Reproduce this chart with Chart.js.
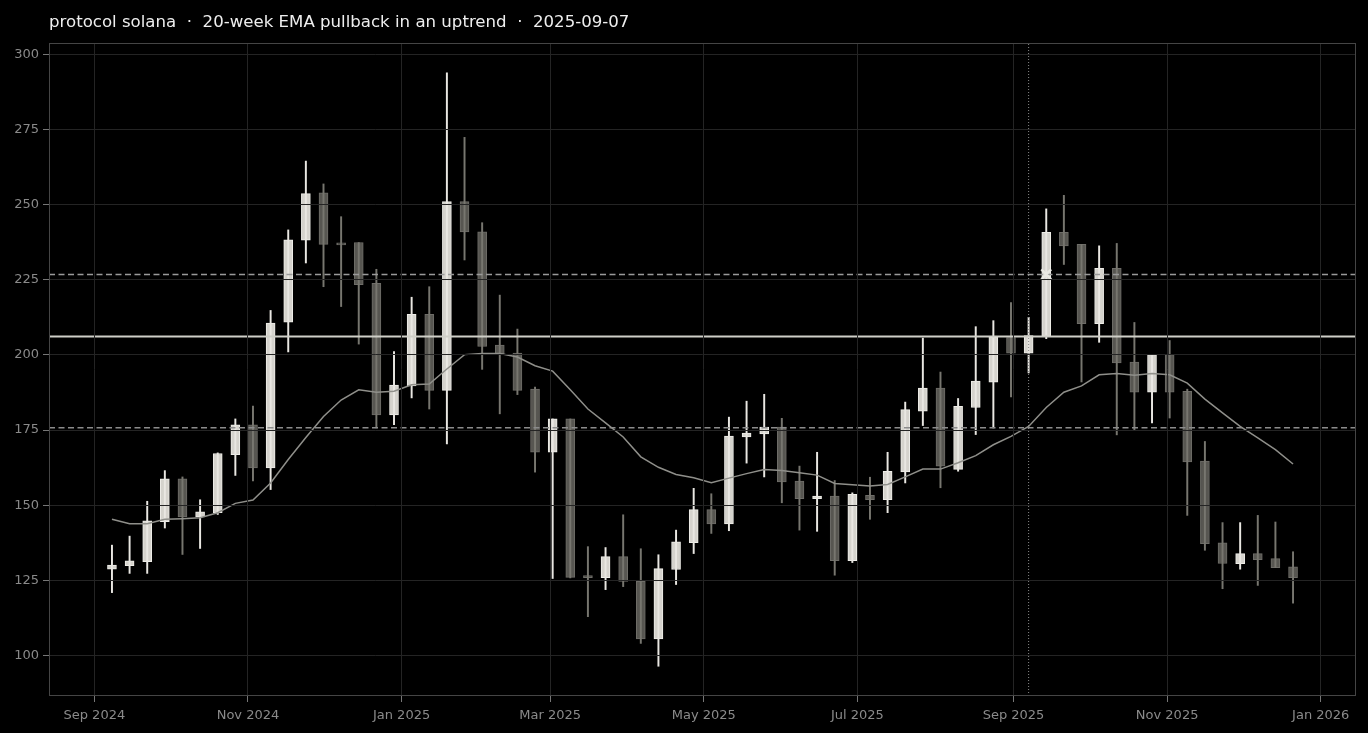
<!DOCTYPE html>
<html>
<head>
<meta charset="utf-8">
<title>protocol solana</title>
<script src="https://cdn.jsdelivr.net/npm/chart.js@4.4.1/dist/chart.umd.min.js"></script>
<style>
  html, body { margin: 0; padding: 0; background: #000; }
  #wrap { width: 1368px; height: 733px; }
</style>
</head>
<body>
<div id="wrap"><canvas id="myChart"></canvas></div>
<script>
// weekly candles (week start dates)
var weeks = [
  '2024-09-08','2024-09-15','2024-09-22','2024-09-29','2024-10-06','2024-10-13','2024-10-20','2024-10-27',
  '2024-11-03','2024-11-10','2024-11-17','2024-11-24','2024-12-01','2024-12-08','2024-12-15','2024-12-22','2024-12-29',
  '2025-01-05','2025-01-12','2025-01-19','2025-01-26','2025-02-02','2025-02-09','2025-02-16','2025-02-23',
  '2025-03-02','2025-03-09','2025-03-16','2025-03-23','2025-03-30','2025-04-06','2025-04-13','2025-04-20','2025-04-27',
  '2025-05-04','2025-05-11','2025-05-18','2025-05-25','2025-06-01','2025-06-08','2025-06-15','2025-06-22','2025-06-29',
  '2025-07-06','2025-07-13','2025-07-20','2025-07-27','2025-08-03','2025-08-10','2025-08-17','2025-08-24','2025-08-31',
  '2025-09-07','2025-09-14','2025-09-21','2025-09-28','2025-10-05','2025-10-12','2025-10-19','2025-10-26',
  '2025-11-02','2025-11-09','2025-11-16','2025-11-23','2025-11-30','2025-12-07','2025-12-14','2025-12-21'
];
var opens = [
  128.7,129.9,131.2,144.5,158.8,146.1,147.5,166.8,176.7,162.4,210.9,238.2,253.9,237.1,237.4,223.8,180.0,
  189.7,213.5,188.2,251.0,241.0,203.3,200.6,188.6,167.6,178.7,126.6,125.9,132.9,124.7,105.5,128.6,137.5,
  148.5,143.8,172.7,173.7,176.0,158.0,152.2,153.0,131.5,153.3,151.8,161.1,181.3,189.0,161.9,182.5,190.9,205.8,
  200.6,206.2,240.8,236.8,210.4,228.8,197.6,187.6,200.1,187.9,164.7,137.5,130.5,133.9,132.2,129.5
];
var highs = [
  136.7,139.7,151.3,161.5,159.4,151.8,167.4,178.7,183.0,214.8,241.6,264.5,256.9,246.0,237.4,228.5,201.1,
  219.2,222.7,293.9,272.4,244.0,219.9,208.6,189.3,178.7,178.7,136.2,135.9,146.8,135.5,133.5,141.7,155.6,
  153.8,179.3,184.6,186.9,178.9,163.0,167.6,158.2,154.1,159.3,167.6,184.3,205.6,194.3,185.5,209.4,211.4,217.4,
  212.5,248.6,253.1,236.8,236.3,237.1,210.8,200.1,204.8,188.6,171.2,144.2,144.2,146.6,144.4,134.5
];
var lows = [
  120.9,127.3,127.3,142.4,133.6,135.6,146.9,159.9,158.1,155.2,201.0,230.6,222.7,216.1,203.6,175.7,176.8,
  185.7,182.0,170.4,231.6,195.2,180.4,186.8,161.0,125.6,125.8,112.9,121.9,122.9,104.0,96.4,123.6,133.9,
  140.6,141.5,164.0,159.4,150.8,141.7,141.3,126.7,130.9,145.3,147.5,157.4,176.5,155.8,161.3,173.5,175.7,186.0,
  194.0,205.4,230.1,191.0,204.2,173.4,174.9,177.4,179.0,146.6,135.0,122.2,128.7,123.3,129.2,117.4
];
var closes = [
  130.1,131.5,144.8,158.8,146.1,147.8,167.2,176.7,162.4,210.6,238.3,253.7,236.8,236.6,223.4,180.0,190.0,
  213.5,188.2,251.0,240.9,202.8,200.4,188.2,167.6,178.7,126.0,125.9,132.9,124.6,105.5,128.9,137.8,148.5,
  143.8,173.0,174.0,176.0,157.7,152.2,153.0,131.5,153.6,151.8,161.3,181.8,189.0,163.0,182.9,191.3,205.9,200.6,
  206.4,240.8,236.3,210.4,228.8,197.3,187.6,200.1,187.6,164.4,137.2,130.6,133.9,131.9,129.2,125.9
];
var ema20 = [
  145.3,143.8,143.8,145.3,145.5,145.8,147.5,150.6,151.7,157.4,165.2,172.5,179.5,185.0,188.4,187.6,187.9,
  190.1,190.3,195.3,200.1,200.5,200.5,199.3,196.4,194.6,188.4,182.0,177.4,172.7,166.1,162.6,160.2,159.1,
  157.5,159.0,160.5,161.9,161.5,160.8,160.0,157.2,156.8,156.4,156.9,159.4,162.0,162.0,164.1,166.5,170.1,172.9,
  176.2,182.5,187.6,189.7,193.4,193.8,193.2,193.8,193.4,190.6,185.3,180.7,176.2,172.4,168.5,163.7
];

var entryLevel = 206.1;
var targetLevel = 226.8;
var stopLevel = 175.8;
var signalWeek = '2025-09-07';
var hitWeek = '2025-09-14';

var tickDates = ['2024-09-01','2024-11-01','2025-01-01','2025-03-01','2025-05-01','2025-07-01','2025-09-01','2025-11-01','2026-01-01'];
var tickLabels = ['Sep 2024','Nov 2024','Jan 2025','Mar 2025','May 2025','Jul 2025','Sep 2025','Nov 2025','Jan 2026'];
var yTicks = [100, 125, 150, 175, 200, 225, 250, 275, 300];
var xRange = ['2024-08-14', '2026-01-15'];
var yRange = [86.5, 303.8];

function day(s) {
  return Date.UTC(+s.slice(0, 4), +s.slice(5, 7) - 1, +s.slice(8, 10)) / 864e5;
}
function isUp(i) { return closes[i] >= opens[i]; }

var xMin = day(xRange[0]), xMax = day(xRange[1]);

var bodies = weeks.map(function (w, i) { return { x: day(w), y: [opens[i], closes[i]] }; });
var wicks = weeks.map(function (w, i) { return { x: day(w), y: [lows[i], highs[i]] }; });
var emaPts = weeks.map(function (w, i) { return { x: day(w), y: ema20[i] }; });
function hline(v) { return [{ x: xMin, y: v }, { x: xMax, y: v }]; }

// plot frame on all four sides + left-aligned title over the plot
var frameAndTitle = {
  id: 'frameAndTitle',
  afterDraw: function (chart) {
    var c = chart.ctx, a = chart.chartArea;
    c.save();
    c.strokeStyle = '#454545';
    c.lineWidth = 1;
    c.strokeRect(a.left + 0.5, a.top + 0.5, a.right - a.left - 1, a.bottom - a.top - 1);
    c.fillStyle = '#eeeeee';
    c.font = '16.6px "DejaVu Sans"';
    c.textBaseline = 'alphabetic';
    c.textAlign = 'left';
    c.fillText('protocol solana  \u00b7  20-week EMA pullback in an uptrend  \u00b7  2025-09-07', a.left, 26.5);
    c.restore();
  }
};

Chart.defaults.font.family = '"DejaVu Sans"';
Chart.defaults.color = '#8a8a8a';

var ctx = document.getElementById('myChart').getContext('2d');
var myChart = new Chart(ctx, {
  type: 'bar',
  data: {
    datasets: [
      {
        label: 'body',
        data: bodies,
        order: 6,
        grouped: false,
        barThickness: 9,
        minBarLength: 2,
        borderWidth: 1,
        borderSkipped: false,
        backgroundColor: function (c) { return isUp(c.dataIndex) ? '#d5d3cd' : '#575651'; },
        borderColor: function (c) { return isUp(c.dataIndex) ? '#efeee9' : '#6e6d68'; }
      },
      {
        label: 'wick',
        data: wicks,
        order: 5,
        grouped: false,
        barThickness: 1.3,
        borderWidth: 0,
        backgroundColor: function (c) { return isUp(c.dataIndex) ? '#e9e7e2' : '#77766f'; }
      },
      {
        type: 'line',
        label: 'target',
        data: hline(targetLevel),
        order: 3,
        borderColor: '#9a9a9a',
        borderWidth: 1.5,
        borderDash: [6, 3.5],
        pointRadius: 0
      },
      {
        type: 'line',
        label: 'stop',
        data: hline(stopLevel),
        order: 3,
        borderColor: '#8c8c8c',
        borderWidth: 1.5,
        borderDash: [6, 3.5],
        pointRadius: 0
      },
      {
        type: 'line',
        label: 'entry',
        data: hline(entryLevel),
        order: 3,
        borderColor: '#cfcfc8',
        borderWidth: 2,
        pointRadius: 0
      },
      {
        type: 'line',
        label: 'signal',
        data: [{ x: day(signalWeek), y: yRange[0] }, { x: day(signalWeek), y: yRange[1] }],
        order: 3,
        borderColor: '#8a8a8a',
        borderWidth: 1,
        borderDash: [1, 2],
        pointRadius: 0
      },
      {
        type: 'line',
        label: 'EMA 20',
        data: emaPts,
        order: 2,
        borderColor: '#8f8f8a',
        borderWidth: 1.5,
        pointRadius: 0,
        tension: 0
      },
      {
        type: 'line',
        label: 'hit',
        data: [{ x: day(hitWeek), y: targetLevel }],
        order: 1,
        showLine: false,
        pointStyle: 'crossRot',
        pointRadius: 7,
        borderWidth: 2.5,
        borderColor: 'rgba(235,235,230,0.9)'
      }
    ]
  },
  options: {
    responsive: true,
    maintainAspectRatio: false,
    animation: false,
    events: [],
    layout: { padding: { top: 43, right: 12, bottom: 0, left: 0 } },
    plugins: {
      legend: { display: false },
      title: { display: false },
      tooltip: { enabled: false }
    },
    scales: {
      x: {
        type: 'linear',
        min: xMin,
        max: xMax,
        offset: false,
        grid: { offset: false, color: '#242424', tickColor: '#777', tickLength: 6, z: 1 },
        border: { display: false },
        afterBuildTicks: function (s) {
          s.ticks = tickDates.map(function (d) { return { value: day(d) }; });
        },
        afterFit: function (s) { s.height = 37; },
        ticks: {
          autoSkip: false,
          maxRotation: 0,
          padding: 6,
          font: { size: 13 },
          color: '#8a8a8a',
          callback: function (v, i) { return tickLabels[i]; }
        }
      },
      y: {
        type: 'linear',
        min: yRange[0],
        max: yRange[1],
        grid: { color: '#242424', tickColor: '#777', tickLength: 6, z: 1 },
        border: { display: false },
        afterBuildTicks: function (s) {
          s.ticks = yTicks.map(function (v) { return { value: v }; });
        },
        afterFit: function (s) { s.width = 49; },
        ticks: {
          padding: 4,
          font: { size: 13 },
          color: '#8a8a8a'
        }
      }
    }
  },
  plugins: [frameAndTitle]
});
</script>
</body>
</html>
